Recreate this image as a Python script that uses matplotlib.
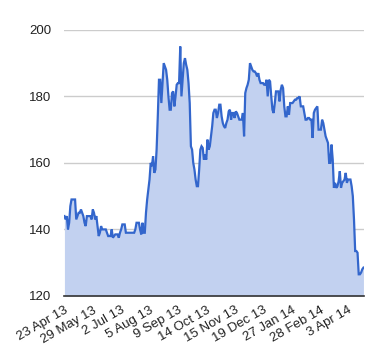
import matplotlib
matplotlib.use("Agg")
import matplotlib.pyplot as plt
import numpy as np

# valores (um por pregão)
valores = [
    144, 143, 144, 140, 142, 147, 149, 149, 149, 149,
    143, 144, 145, 145, 146, 145, 144, 142, 141, 144,
    144, 144, 144, 143, 146, 145, 143, 144, 141, 138,
    139, 141, 140, 140, 140, 140, 139, 138, 138, 138,
    140, 137.5, 138, 138.5, 138.5, 138.5, 137.5, 139, 140, 141.5,
    141.5, 141.5, 139, 139, 139, 139, 139, 139, 139, 139,
    140, 142, 142, 142, 140, 138.5, 142, 139, 139, 145,
    149, 152, 155, 160, 159, 162, 157, 158, 164, 174,
    185, 185, 178, 184, 190, 189, 188, 185, 180, 176,
    176, 181, 181.5, 177, 180, 183.5, 184, 184, 195, 180,
    185, 190, 191.5, 189.5, 188, 184, 178, 165, 164, 160,
    158, 155, 153, 153, 158, 164, 165, 164.5, 161, 162.5,
    161, 167, 164, 165, 168, 171, 175, 176, 176, 173.5,
    175, 177.5, 177.5, 174, 172, 171, 170.5, 172, 173, 175.5,
    176, 173, 175, 175, 173.5, 175.5, 175, 174, 173, 173,
    173, 175, 168, 181, 182.5, 183.5, 185, 190, 189, 188,
    187.5, 187.5, 187, 186, 187, 185, 184, 184, 184, 183.5,
    183.5, 185, 180, 185, 184.5, 180, 176, 175, 178, 181.5,
    181.5, 181.5, 178.5, 182, 183.5, 182.5, 177, 174, 174, 177,
    174.5, 178, 178, 178, 178.5, 179, 179, 179.5, 179.5, 180,
    177, 177, 177, 175, 173, 173, 173.5, 173.5, 173, 173,
    167.5, 175, 176, 176.5, 177, 170, 170, 170, 173, 172,
    170, 168, 167, 166, 160, 160, 165.5, 161, 152.5, 154,
    152.5, 153, 154.5, 157.5, 152.5, 154, 154.5, 155, 157, 154,
    155, 155, 155, 153, 150, 143, 133.5, 133.5, 133, 126.5,
    126.5, 127, 128, 128.5,
]

rotulos_x = ["23 Apr 13", "29 May 13", "2 Jul 13", "5 Aug 13", "9 Sep 13",
             "14 Oct 13", "15 Nov 13", "19 Dec 13", "27 Jan 14", "28 Feb 14",
             "3 Apr 14"]
passo_rotulo = 24
ticks_y = [120, 140, 160, 180, 200]

plt.rcParams["font.family"] = ["Liberation Sans", "DejaVu Sans"]

x = np.arange(len(valores))
fig = plt.figure(figsize=(3.8, 3.6), dpi=100)
ax = fig.add_axes([0.168, 0.178, 0.79, 0.739])

ax.fill_between(x, valores, 120, color="#c2d1f0", linewidth=0)
ax.plot(x, valores, color="#3366cc", linewidth=1.6, solid_joinstyle="miter")

ax.set_xlim(-0.5, len(valores) - 0.5)
ax.set_ylim(120, 200)
ax.set_yticks(ticks_y)
ax.set_yticklabels([str(v) for v in ticks_y])
ax.set_xticks(x[::passo_rotulo][:len(rotulos_x)])
ax.set_xticklabels(rotulos_x, rotation=30, ha="right", rotation_mode="anchor")

ax.grid(axis="y", color="#cccccc", linewidth=1)
ax.set_axisbelow(True)
for lado in ["top", "right", "left"]:
    ax.spines[lado].set_visible(False)
ax.spines["bottom"].set_color("#333333")
ax.spines["bottom"].set_linewidth(1.2)
ax.spines["bottom"].set_zorder(5)
ax.tick_params(axis="both", length=0, labelsize=9.5, labelcolor="#222222")
ax.tick_params(axis="y", pad=9)
ax.tick_params(axis="x", pad=6)

fig.savefig("out.png", dpi=100)
